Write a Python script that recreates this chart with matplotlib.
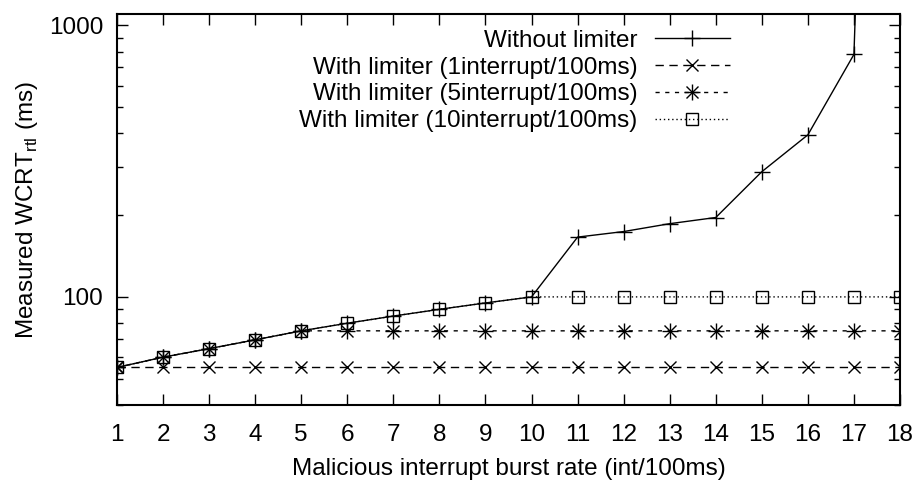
import matplotlib
matplotlib.use("Agg")
import matplotlib.pyplot as plt
from matplotlib.lines import Line2D
from matplotlib.ticker import LogLocator, NullFormatter, FixedLocator

plt.rcParams["font.family"] = ["Liberation Sans", "DejaVu Sans"]
plt.rcParams["mathtext.fontset"] = "custom"
plt.rcParams["mathtext.rm"] = "Liberation Sans"

# burst rate (int/100ms)
rate = list(range(1, 19))

# measured WCRT_rtl (ms)
# the last point without limiter is far off the scale (unbounded)
wcrt_no_limiter = [55, 60, 64.5, 69.5, 75, 80, 85, 90, 95, 100,
                   166, 174, 186, 196, 289, 395, 781, 1e8]
wcrt_lim_1 = [55] * 18
wcrt_lim_5 = [55, 60, 64.5, 69.5, 75] + [75] * 13
wcrt_lim_10 = [55, 60, 64.5, 69.5, 75, 80, 85, 90, 95, 100] + [100] * 8

labels = [
    "Without limiter",
    "With limiter (1interrupt/100ms)",
    "With limiter (5interrupt/100ms)",
    "With limiter (10interrupt/100ms)",
]

fig = plt.figure(figsize=(9.19, 4.84), dpi=100)
ax = fig.add_axes([117 / 919, 1 - 405 / 484, 783 / 919, 391 / 484])

ax.plot(rate, wcrt_no_limiter, color="black", lw=1.0, marker="+",
        ms=11, mew=1.0, label=labels[0])
ax.plot(rate, wcrt_lim_1, color="black", lw=1.0, ls=(0, (6, 4)), marker="x",
        ms=9, mew=1.0, label=labels[1])
ax.plot(rate, wcrt_lim_5, color="black", lw=1.0, ls=(0, (3, 4)),
        label=labels[2])
# asterisk made of + and x, like gnuplot point type 3
ax.plot(rate, wcrt_lim_5, color="black", lw=0, marker="+", ms=11, mew=1.0)
ax.plot(rate, wcrt_lim_5, color="black", lw=0, marker="x", ms=8, mew=1.0)
ax.plot(rate, wcrt_lim_10, color="black", lw=1.0, ls=(0, (1, 2)), marker="s",
        ms=9, mew=1.0, mfc="none", label=labels[3])

ax.set_yscale("log")
ax.set_xlim(1, 18)
ax.set_ylim(40, 1100)
ax.xaxis.set_major_locator(FixedLocator(rate))
ax.yaxis.set_major_locator(FixedLocator([100, 1000]))
ax.yaxis.set_major_formatter(plt.FuncFormatter(lambda v, p: f"{v:g}"))
ax.yaxis.set_minor_locator(LogLocator(base=10, subs=range(2, 10)))
ax.yaxis.set_minor_formatter(NullFormatter())

ax.tick_params(which="both", direction="in", top=True, right=True,
               width=1.0, labelsize=17.5)
ax.tick_params(which="major", length=8)
ax.tick_params(which="minor", length=4)
ax.tick_params(axis="x", pad=14)
ax.tick_params(axis="y", pad=10)
for s in ax.spines.values():
    s.set_linewidth(1.5)

ax.set_xlabel("Malicious interrupt burst rate (int/100ms)", fontsize=17.5,
              labelpad=8)
ax.set_ylabel(r"Measured WCRT$_{\mathregular{rtl}}$ (ms)", fontsize=17.5,
              labelpad=6)

# legend handle for the asterisk series
h, l = ax.get_legend_handles_labels()
h[2] = (Line2D([], [], color="black", lw=1.0, ls=(0, (3, 4))),
        Line2D([], [], color="black", lw=0, marker="+", ms=11, mew=1.0),
        Line2D([], [], color="black", lw=0, marker="x", ms=8, mew=1.0))
leg = ax.legend(h, l, loc="upper right", bbox_to_anchor=(0.783, 0.96),
                frameon=False, fontsize=17.5, markerfirst=False, numpoints=1,
                handlelength=3.1, handletextpad=0.7, labelspacing=0.2,
                borderpad=0, borderaxespad=0)

fig.savefig("out.png", dpi=100)
